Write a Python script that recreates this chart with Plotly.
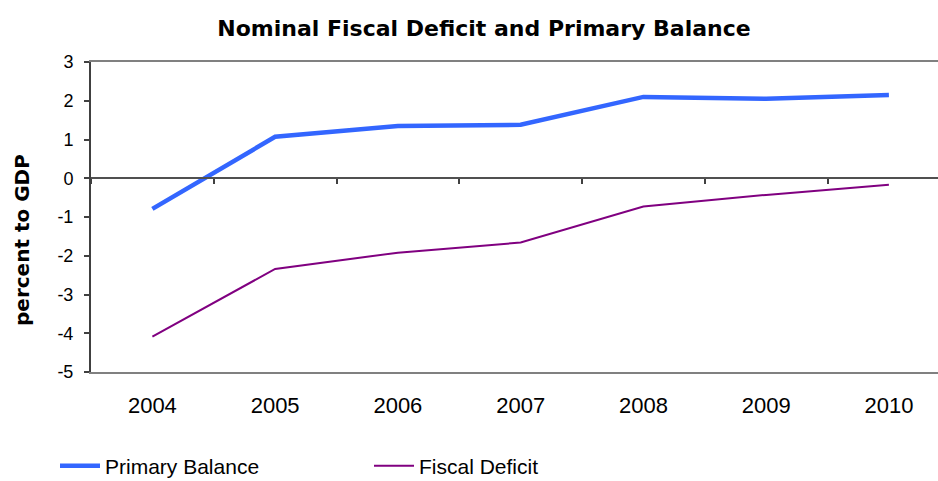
import plotly.graph_objects as go

# Annual series, percent of GDP
years = ["2004", "2005", "2006", "2007", "2008", "2009", "2010"]
primary_balance = [-0.79, 1.07, 1.35, 1.38, 2.10, 2.05, 2.15]
fiscal_deficit = [-4.09, -2.34, -1.92, -1.66, -0.73, -0.43, -0.17]
y_ticks = [3, 2, 1, 0, -1, -2, -3, -4, -5]
y_tick_text = ["3", "2", "1", "0", "-1", "-2", "-3", "-4", "-5"]

W, H = 938, 481
M_L, M_R, M_T, M_B = 91, 0, 62, 109

fig = go.Figure()
fig.add_trace(go.Scatter(
    x=list(range(len(years))), y=primary_balance, name="Primary Balance",
    mode="lines", line=dict(color="#3366FF", width=4.5),
))
fig.add_trace(go.Scatter(
    x=list(range(len(years))), y=fiscal_deficit, name="Fiscal Deficit",
    mode="lines", line=dict(color="#800080", width=2),
))
# invisible trace on the overlay axis that carries the zero-line ticks
fig.add_trace(go.Scatter(
    x=[0], y=[0], xaxis="x2", mode="markers", marker=dict(opacity=0),
    showlegend=False, hoverinfo="skip",
))

ymin, ymax = min(y_ticks), max(y_ticks)
zero_pos = (0 - ymin) / (ymax - ymin)
x_range = [-0.5, len(years) - 0.6]

fig.update_layout(
    width=W, height=H,
    margin=dict(l=M_L, r=M_R, t=M_T, b=M_B),
    paper_bgcolor="white", plot_bgcolor="white",
    font=dict(family="Liberation Sans, Arial, sans-serif", color="#000000"),
    title=dict(
        text="<b>Nominal Fiscal Deficit and Primary Balance</b>",
        x=0.516, xanchor="center", y=1 - 28 / H, yanchor="middle",
        font=dict(family="DejaVu Sans, sans-serif", size=22, color="#000000"),
    ),
    xaxis=dict(
        range=x_range, tickmode="array",
        tickvals=list(range(len(years))), ticktext=years,
        showgrid=False, zeroline=False, ticks="",
        showline=True, linecolor="#808080", linewidth=2, mirror=True,
        tickfont=dict(size=22), ticklabelstandoff=13,
    ),
    xaxis2=dict(
        overlaying="x", anchor="free", position=zero_pos, side="bottom",
        range=x_range, tickmode="array",
        tickvals=[i + 0.5 for i in range(len(years) - 1)] + [-0.5],
        showticklabels=False, showgrid=False, zeroline=False,
        showline=True, linecolor="#505050", linewidth=1.5,
        ticks="outside", ticklen=5, tickwidth=1.5, tickcolor="#404040",
    ),
    yaxis=dict(
        range=[ymin, ymax], tickmode="array", tickvals=y_ticks,
        ticktext=y_tick_text,
        showgrid=False, zeroline=False,
        showline=True, linecolor="#404040", linewidth=2,
        ticks="outside", ticklen=5, tickwidth=1.5, tickcolor="#404040",
        tickfont=dict(size=18), ticklabelstandoff=7,
    ),
    legend=dict(
        orientation="h", xref="container", yref="container",
        x=55 / W, xanchor="left", y=(H - 466) / H, yanchor="middle",
        font=dict(size=21), entrywidth=259, entrywidthmode="pixels",
        itemwidth=40, bgcolor="rgba(0,0,0,0)",
    ),
    showlegend=True,
)

fig.add_annotation(
    text="<b>percent to GDP</b>", textangle=-90,
    xref="paper", yref="paper",
    x=(22 - M_L) / (W - M_L - M_R), y=(H - M_B - 240) / (H - M_T - M_B),
    xanchor="center", yanchor="middle", showarrow=False,
    font=dict(family="DejaVu Sans, sans-serif", size=20, color="#000000"),
)

fig.write_html("out.html")
